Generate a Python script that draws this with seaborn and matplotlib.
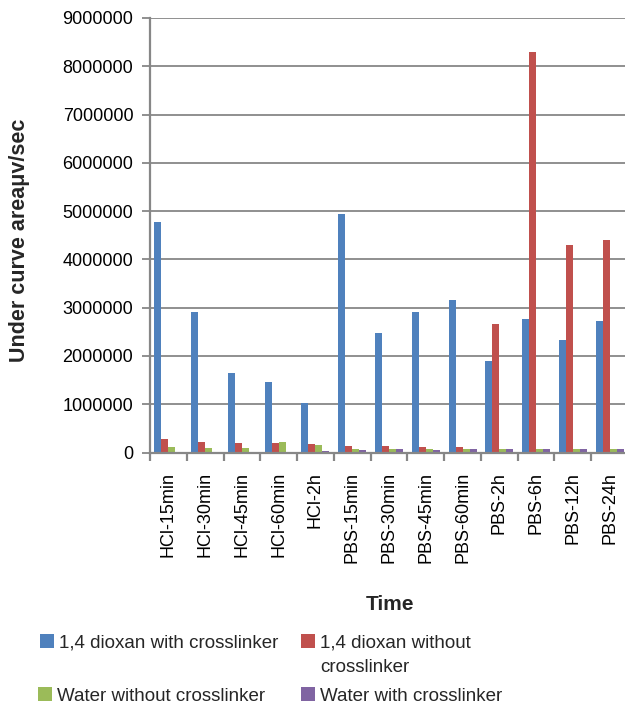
import matplotlib
matplotlib.use("Agg")
import matplotlib.pyplot as plt
from matplotlib.ticker import FuncFormatter, FixedLocator
import seaborn as sns
import pandas as pd

categories = ["HCl-15min", "HCl-30min", "HCl-45min", "HCl-60min", "HCl-2h",
              "PBS-15min", "PBS-30min", "PBS-45min", "PBS-60min",
              "PBS-2h", "PBS-6h", "PBS-12h", "PBS-24h"]
dioxan_with = [4780000, 2920000, 1650000, 1450000, 1030000, 4950000, 2470000,
               2900000, 3150000, 1900000, 2770000, 2340000, 2730000]
dioxan_without = [280000, 220000, 200000, 200000, 180000, 130000, 130000,
                  110000, 110000, 2660000, 8300000, 4300000, 4400000]
water_without = [110000, 90000, 90000, 220000, 155000, 70000, 70000,
                 70000, 70000, 70000, 70000, 70000, 70000]
water_with = [15000, 15000, 15000, 15000, 30000, 50000, 70000,
              50000, 70000, 70000, 70000, 70000, 70000]
series_names = ["1,4 dioxan with crosslinker", "1,4 dioxan without\ncrosslinker",
                "Water without crosslinker", "Water with crosslinker"]
colors = ["#4F81BD", "#C0504D", "#9BBB59", "#8064A2"]

rows = []
for name, vals in zip(series_names, [dioxan_with, dioxan_without, water_without, water_with]):
    for c, v in zip(categories, vals):
        rows.append({"Time": c, "Value": v, "Series": name})
df = pd.DataFrame(rows)

sns.set_theme(style="white")
plt.rcParams["font.family"] = ["Liberation Sans", "DejaVu Sans"]

fig = plt.figure(figsize=(6.25, 7.11), dpi=100)
ax = fig.add_axes([150 / 625, 1 - 452.5 / 711, 478 / 625, (452.5 - 18) / 711])

sns.barplot(data=df, x="Time", y="Value", hue="Series", order=categories,
            hue_order=series_names, palette=colors, width=0.76, gap=0,
            saturation=1, linewidth=0, ax=ax, zorder=3)
handles, labels = ax.get_legend_handles_labels()
if ax.get_legend() is not None:
    ax.get_legend().remove()

grid_c = "#878787"
ax.set_xlim(-0.5, 12.5)
ax.set_ylim(0, 9000000)
ax.set_yticks(range(0, 9000001, 1000000))
ax.yaxis.set_major_formatter(FuncFormatter(lambda v, p: f"{int(v)}"))
ax.grid(axis="y", color=grid_c, linewidth=1.3, zorder=0)
ax.set_axisbelow(True)
for s in ["top", "right"]:
    ax.spines[s].set_visible(False)
for s in ["left", "bottom"]:
    ax.spines[s].set_color(grid_c)
    ax.spines[s].set_linewidth(1.6)
    ax.spines[s].set_zorder(4)

ax.set_xticks(range(len(categories)))
ax.set_xticklabels(categories, rotation=90, fontsize=13, va="top", ha="center")
ax.xaxis.set_minor_locator(FixedLocator([i - 0.5 for i in range(len(categories) + 1)]))
ax.tick_params(axis="x", which="major", length=0, pad=14, colors="black")
ax.tick_params(axis="x", which="minor", length=6, width=1.6, color=grid_c, direction="out", bottom=True)
ax.tick_params(axis="y", which="major", length=6, width=1.3, color=grid_c, direction="out",
               left=True, pad=6, labelsize=13, labelcolor="black")
ax.set_xlabel("")
ax.set_ylabel("")

fig.text(20 / 625, 1 - 240 / 711, "Under curve areaμv/sec", rotation=90,
         ha="center", va="center", fontsize=15.5, fontweight="bold")
fig.text(390 / 625, 1 - 605 / 711, "Time", ha="center", va="center",
         fontsize=15, fontweight="bold")

# legend entries (first line of each label beside its square)
positions = [(40, 643), (301, 643), (38, 696), (301, 696)]
for h, lab, (px, py) in zip(handles, labels, positions):
    first, *rest = lab.split("\n")
    fig.legend([h], [first], loc="center left",
               bbox_to_anchor=(px / 625, 1 - py / 711),
               frameon=False, fontsize=13.5, handlelength=0.72, handleheight=0.72,
               handletextpad=0.3, borderpad=0, borderaxespad=0)
    for k, extra in enumerate(rest):
        fig.text(320 / 625, 1 - (py + 25 * (k + 1)) / 711, extra,
                 ha="left", va="center", fontsize=13.5)

fig.savefig("out.png", dpi=100)
